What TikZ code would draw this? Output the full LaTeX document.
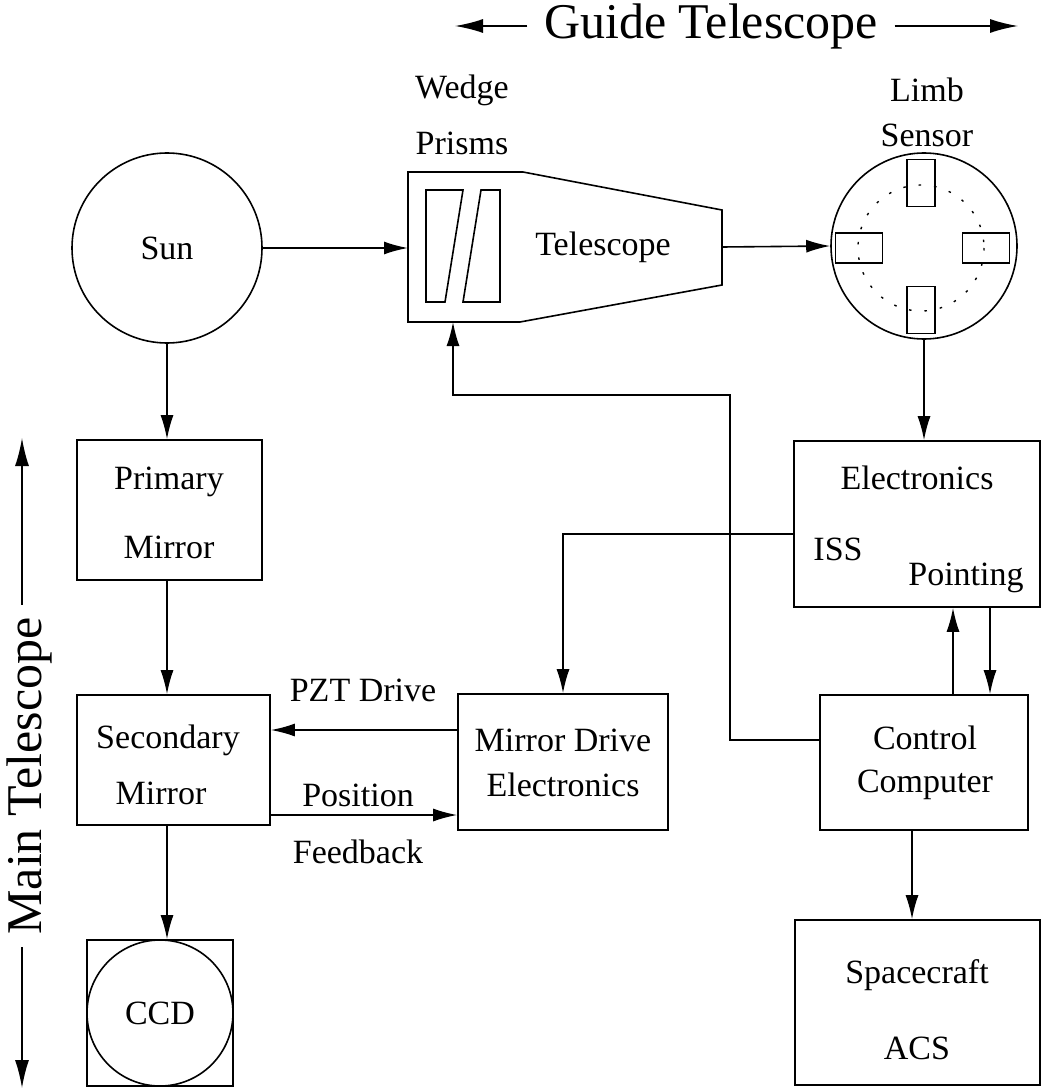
\documentclass[tikz,border=0pt]{standalone}
\usepackage{fontspec}
\setmainfont{Liberation Serif}
\usetikzlibrary{arrows.meta}
\begin{document}
\begin{tikzpicture}[x=1pt,y=-1pt,line width=1.6pt,
  every node/.style={font=\fontsize{34}{40}\selectfont},
  big/.style={font=\fontsize{50}{56}\selectfont},
  box/.style={draw,rectangle,inner sep=0pt},
  circ/.style={draw,circle,inner sep=0pt},
  arr/.style={-{Latex[length=24pt,width=13pt]}},
  bigarr/.style={-{Latex[length=28pt,width=14pt]}},
  dotc/.style={line width=1.4pt,dash pattern=on 2.5pt off 13pt}]
\useasboundingbox (0,0) rectangle (1045,1091);

% title arrows
\node[big,inner xsep=16pt] (gt) at (711,26) {Guide Telescope};
\coordinate (gl) at (455,28);
\coordinate (gr) at (1018,28);
\draw[bigarr] (gt.west) -- (gt.west -| gl);
\draw[bigarr] (gt.east) -- (gt.east -| gr);

\node[big,rotate=90,inner xsep=12pt] (mt) at (29,776) {Main Telescope};
\coordinate (mtop) at (22,438);
\coordinate (mbot) at (22,1088);
\draw[bigarr] (mt.east -| mtop) -- (mtop);
\draw[bigarr] (mt.west -| mbot) -- (mbot);

% Sun
\node[circ,minimum size=190pt] (sun) at (167,248) {Sun};

% Telescope with wedge prisms
\coordinate (tl) at (408,172);
\coordinate (tk) at (523,172);
\coordinate (tr) at (722,210);
\coordinate (br) at (722,285);
\coordinate (bk) at (520,322);
\coordinate (bl) at (408,322);
\draw (tl) -- (tk) -- (tr) -- (br) -- (bk) -- (bl) -- cycle;
\draw (426,190) -- (463,190) -- (445,302) -- (426,302) -- cycle;
\draw (481,190) -- (500,190) -- (500,302) -- (463,302) -- cycle;
\node (tel) at (603,247) {Telescope};
\node (wedge) at (462,90) {Wedge};
\node (prisms) at (462,143) {Prisms};
\coordinate (telin) at (408,248);
\coordinate (telout) at (722,247);
\coordinate (telbot) at (453,322);

% Limb sensor
\node[circ,minimum size=186pt] (limb) at (924,246) {};
\draw[dotc] (921,248) circle (63);
\node[box,minimum width=28pt,minimum height=47pt] (s1) at (921,183) {};
\node[box,minimum width=28pt,minimum height=47pt] (s2) at (921,310) {};
\node[box,minimum width=47pt,minimum height=30pt] (s3) at (859,248) {};
\node[box,minimum width=47pt,minimum height=30pt] (s4) at (986,248) {};
\node (limbt) at (927,90) {Limb};
\node (sensor) at (927,135) {Sensor};

% boxes
\node[box,minimum width=185pt,minimum height=140pt] (prim) at (169.5,510) {};
\node (prim1) at (169,482) {Primary};
\node (prim2) at (169,547) {Mirror};

\node[box,minimum width=193pt,minimum height=130pt] (sec) at (173.5,760) {};
\node (sec1) at (168,740) {Secondary};
\node (sec2) at (161,793) {Mirror};

\node[box,minimum width=146pt,minimum height=146pt] (ccdbox) at (160,1013) {};
\node[circ,minimum size=146pt] (ccd) at (160,1013) {CCD};

\node[box,minimum width=210pt,minimum height=136pt] (mde) at (563,762) {};
\node (mde1) at (563,740) {Mirror Drive};
\node (mde2) at (563,785) {Electronics};

\node[box,minimum width=246pt,minimum height=166pt] (elec) at (917,524) {};
\node (elec1) at (917,478) {Electronics};
\node (iss) at (838,549) {ISS};
\node (point) at (966,578) {Pointing};

\node[box,minimum width=208pt,minimum height=135pt] (ctrl) at (924,762.5) {};
\node (ctrl1) at (925,738) {Control};
\node (ctrl2) at (925,785) {Computer};

\node[box,minimum width=245pt,minimum height=165pt] (acs) at (917.5,1002.5) {};
\node (acs1) at (917,975) {Spacecraft};
\node (acs2) at (917,1048) {ACS};

\node (pztl) at (363,690) {PZT Drive};
\node (posl) at (358,795) {Position};
\node (fbl) at (358,852) {Feedback};

% connectors
\draw[arr] (sun.east) -- (telin);
\draw[arr] (telout) -- (limb.west);
\draw[arr] (sun.south) -- (sun.south |- prim.north);
\draw[arr] (sun.south |- prim.south) -- (sun.south |- sec.north);
\draw[arr] (sun.south |- sec.south) -- (sun.south |- ccdbox.north);
\draw[arr] (limb.south) -- (limb.south |- elec.north);

\coordinate (pzt) at (458,730);
\draw[arr] (pzt) -- (pzt -| sec.east);
\coordinate (pf) at (270,815);
\draw[arr] (pf) -- (pf -| mde.west);

\coordinate (issout) at (794,534);
\draw[arr] (issout) -| (mde.north);

\coordinate (ccout) at (820,740);
\draw[arr] (ccout) -- (730,740) -- (730,395) -- (453,395) -- (telbot);

\coordinate (ua) at (953,0);
\coordinate (da) at (990,0);
\draw[arr] (ua |- ctrl.north) -- (ua |- elec.south);
\draw[arr] (da |- elec.south) -- (da |- ctrl.north);
\coordinate (ca) at (912,0);
\draw[arr] (ca |- ctrl.south) -- (ca |- acs.north);
\end{tikzpicture}
\end{document}
